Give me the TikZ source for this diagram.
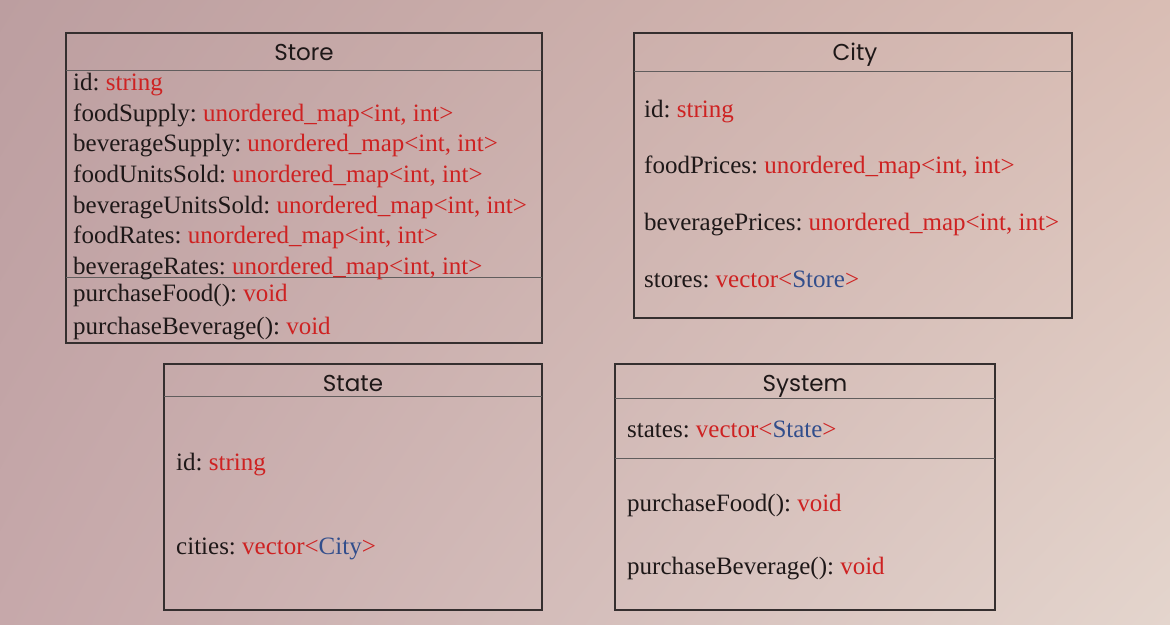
\documentclass[tikz,border=0pt]{standalone}
\usepackage{fontspec}
\usepackage{tikz}
\setmainfont{Liberation Serif}
\newfontfamily\titlefont{Poppins}
\usetikzlibrary{positioning,shadings}
\frenchspacing
\definecolor{bgtl}{RGB}{188,158,160}
\definecolor{bgtr}{RGB}{217,189,180}
\definecolor{bgbl}{RGB}{198,168,170}
\definecolor{bgbr}{RGB}{228,213,205}
\definecolor{typered}{RGB}{206,34,34}
\definecolor{clsblue}{RGB}{50,78,140}
\definecolor{ink}{RGB}{30,24,24}
\newcommand{\ty}[1]{\textcolor{typered}{#1}}
\newcommand{\cl}[1]{\textcolor{clsblue}{#1}}
\newcommand{\umap}{\ty{unordered\_map<int, int>}}
\tikzstyle{classbox}=[draw=ink!90,line width=1.2pt]
\tikzstyle{divider}=[draw=ink!70,line width=1pt]
\tikzstyle{title}=[text=ink,font=\titlefont\fontsize{23}{26}\selectfont,inner sep=0pt,text height=16pt,text depth=0pt]
\tikzstyle{member}=[anchor=west,text=ink,font=\fontsize{25}{28}\selectfont,inner sep=0pt,text height=17pt,text depth=6pt,yshift=-2.5pt]

\begin{document}
\begin{tikzpicture}[x=1pt,y=-1pt]
    % background
    \shade[upper left=bgtl,upper right=bgtr,lower left=bgbl,lower right=bgbr] (0,0) rectangle (1170,624);
    \useasboundingbox (0,0) rectangle (1170,624);

    % Store
    \path[classbox] (66,33) rectangle (542,343);
    \path[divider] (66,70) -- (542,70);
    \path[divider] (66,277) -- (542,277);
    \node[title] (storeT) at (304,52) {Store};
    \foreach \y/\name/\txt in {82/sId/{id: \ty{string}},
        113/sFood/{foodSupply: \umap},
        143/sBev/{beverageSupply: \umap},
        174/sFoodSold/{foodUnitsSold: \umap},
        205/sBevSold/{beverageUnitsSold: \umap},
        235/sFoodRate/{foodRates: \umap},
        266/sBevRate/{beverageRates: \umap},
        293/sBuyFood/{purchaseFood(): \ty{void}},
        326/sBuyBev/{purchaseBeverage(): \ty{void}}}
        \node[member] (\name) at (73,\y) {\txt};

    % City
    \path[classbox] (634,33) rectangle (1072,318);
    \path[divider] (634,71) -- (1072,71);
    \node[title] (cityT) at (855,52) {City};
    \foreach \y/\name/\txt in {109/cId/{id: \ty{string}},
        165/cFood/{foodPrices: \umap},
        222/cBev/{beveragePrices: \umap},
        279/cStores/{stores: \ty{vector<}\cl{Store}\ty{>}}}
        \node[member] (\name) at (644,\y) {\txt};

    % State
    \path[classbox] (164,364) rectangle (542,610);
    \path[divider] (164,396) -- (542,396);
    \node[title] (stateT) at (353,383) {State};
    \foreach \y/\name/\txt in {462/tId/{id: \ty{string}},
        546/tCities/{cities: \ty{vector<}\cl{City}\ty{>}}}
        \node[member] (\name) at (176,\y) {\txt};

    % System
    \path[classbox] (615,364) rectangle (995,610);
    \path[divider] (615,398) -- (995,398);
    \path[divider] (615,458) -- (995,458);
    \node[title] (systemT) at (805,383) {System};
    \foreach \y/\name/\txt in {429/yStates/{states: \ty{vector<}\cl{State}\ty{>}},
        503/yBuyFood/{purchaseFood(): \ty{void}},
        566/yBuyBev/{purchaseBeverage(): \ty{void}}}
        \node[member] (\name) at (627,\y) {\txt};
\end{tikzpicture}
\end{document}
